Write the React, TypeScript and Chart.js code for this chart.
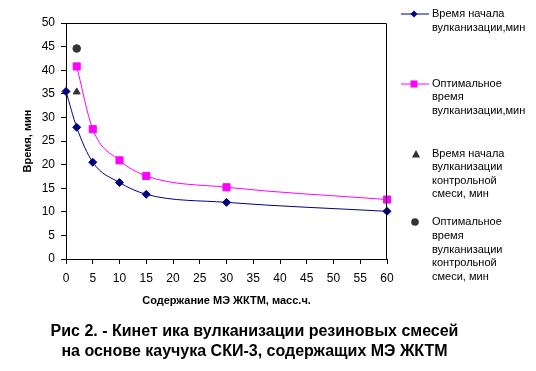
import React, { useEffect, useRef } from "react";
import { Chart, registerables } from "chart.js";

Chart.register(...registerables);

const xValuesMain = [0, 2, 5, 10, 15, 30, 60];
const scorchTime = [35.5, 27.9, 20.5, 16.2, 13.7, 12.0, 10.1];
const xValuesOpt = [2, 5, 10, 15, 30, 60];
const optimalTime = [40.8, 27.5, 20.9, 17.6, 15.2, 12.6];
const controlX = [2];
const controlScorch = [35.4];
const controlOptimal = [44.6];

const legendLabels = [
  ["Время начала", "вулканизации,мин"],
  ["Оптимальное", "время", "вулканизации,мин"],
  ["Время начала", "вулканизации", "контрольной", "смеси, мин"],
  ["Оптимальное", "время", "вулканизации", "контрольной", "смеси, мин"],
];
const yAxisTitle = "Время, мин";
const xAxisTitle = "Содержание МЭ ЖКТМ, масс.ч.";
const captionLines = [
  "Рис 2. - Кинет ика вулканизации резиновых смесей",
  "на основе каучука СКИ-3, содержащих МЭ ЖКТМ",
];

const NAVY = "#000080";
const MAGENTA = "#FF00FF";
const GRAY = "#333333";
const FONT = "'Liberation Sans', Arial, sans-serif";

const frame = {
  id: "frame",
  afterDraw(chart: any) {
    const { ctx, chartArea } = chart;
    ctx.save();
    ctx.strokeStyle = "#000";
    ctx.lineWidth = 1;
    ctx.beginPath();
    ctx.moveTo(Math.round(chartArea.left) + 0.5, Math.round(chartArea.top) + 0.5);
    ctx.lineTo(Math.round(chartArea.right) - 0.5, Math.round(chartArea.top) + 0.5);
    ctx.lineTo(Math.round(chartArea.right) - 0.5, Math.round(chartArea.bottom) + 0.5);
    ctx.stroke();
    ctx.restore();
  },
};

function Marker({ kind }: { kind: number }) {
  if (kind === 0) {
    return (
      <svg width="30" height="10" style={{ display: "block" }}>
        <line x1="1" y1="5" x2="29" y2="5" stroke={NAVY} strokeWidth="1" />
        <polygon points="14,1.5 17.5,5 14,8.5 10.5,5" fill={NAVY} />
      </svg>
    );
  }
  if (kind === 1) {
    return (
      <svg width="30" height="10" style={{ display: "block" }}>
        <line x1="1" y1="5" x2="29" y2="5" stroke={MAGENTA} strokeWidth="1" />
        <rect x="10.5" y="1.5" width="7" height="7" fill={MAGENTA} />
      </svg>
    );
  }
  if (kind === 2) {
    return (
      <svg width="30" height="10" style={{ display: "block" }}>
        <polygon points="15,1 19,8.5 11,8.5" fill={GRAY} />
      </svg>
    );
  }
  return (
    <svg width="30" height="10" style={{ display: "block" }}>
      <circle cx="14" cy="5" r="3.8" fill={GRAY} />
    </svg>
  );
}

const legendTops = [7.3, 76.9, 146.6, 215.4];
const legendMarkerY = [14.3, 83.5, 153.5, 222.3];

export default function App() {
  const canvasRef = useRef<HTMLCanvasElement | null>(null);

  useEffect(() => {
    document.body.style.margin = "0";
    const canvas = canvasRef.current;
    if (!canvas) return;
    const chart = new Chart(canvas, {
      type: "line",
      data: {
        datasets: [
          {
            label: legendLabels[0].join(" "),
            data: xValuesMain.map((x, i) => ({ x, y: scorchTime[i] })),
            borderColor: NAVY,
            backgroundColor: NAVY,
            borderWidth: 1,
            pointStyle: "rectRot",
            pointRadius: 4,
            cubicInterpolationMode: "monotone",
            clip: false,
          },
          {
            label: legendLabels[1].join(" "),
            data: xValuesOpt.map((x, i) => ({ x, y: optimalTime[i] })),
            borderColor: MAGENTA,
            backgroundColor: MAGENTA,
            borderWidth: 1,
            pointStyle: "rect",
            pointRadius: 5,
            cubicInterpolationMode: "monotone",
            clip: false,
          },
          {
            label: legendLabels[2].join(" "),
            data: controlX.map((x, i) => ({ x, y: controlScorch[i] })),
            borderColor: GRAY,
            backgroundColor: GRAY,
            showLine: false,
            pointStyle: "triangle",
            pointRadius: 4,
            clip: false,
          },
          {
            label: legendLabels[3].join(" "),
            data: controlX.map((x, i) => ({ x, y: controlOptimal[i] })),
            borderColor: GRAY,
            backgroundColor: GRAY,
            showLine: false,
            pointStyle: "circle",
            pointRadius: 3.8,
            clip: false,
          },
        ],
      },
      options: {
        animation: false,
        responsive: false,
        maintainAspectRatio: false,
        layout: { padding: { left: 0, top: 23, right: 149, bottom: 0 } },
        plugins: {
          legend: { display: false },
          tooltip: { enabled: false },
          title: { display: false },
        },
        scales: {
          x: {
            type: "linear",
            min: 0,
            max: 60,
            afterFit: (s: any) => {
              s.height = 112;
            },
            ticks: {
              stepSize: 5,
              color: "#000",
              padding: 7,
              maxRotation: 0,
              font: { family: FONT, size: 12 },
            },
            grid: {
              drawOnChartArea: false,
              drawTicks: true,
              tickLength: 5,
              color: "#000",
            },
            border: { display: true, color: "#000" },
            title: {
              display: true,
              text: xAxisTitle,
              color: "#000",
              font: { family: FONT, size: 11, weight: "bold" },
              padding: { top: 0, bottom: 63.4 },
            },
          },
          y: {
            type: "linear",
            min: 0,
            max: 50,
            afterFit: (s: any) => {
              s.width = 66;
            },
            ticks: {
              stepSize: 5,
              color: "#000",
              padding: 6,
              font: { family: FONT, size: 12 },
            },
            grid: {
              drawOnChartArea: false,
              drawTicks: true,
              tickLength: 5,
              color: "#000",
            },
            border: { display: true, color: "#000" },
            title: {
              display: true,
              text: yAxisTitle,
              color: "#000",
              font: { family: FONT, size: 11, weight: "bold" },
              padding: { top: 21, bottom: 0 },
            },
          },
        },
      },
      plugins: [frame],
    } as any);
    return () => chart.destroy();
  }, []);

  return (
    <div
      style={{
        position: "relative",
        width: 536,
        height: 371,
        background: "#fff",
        fontFamily: FONT,
        overflow: "hidden",
      }}
    >
      <canvas
        ref={canvasRef}
        width={536}
        height={371}
        style={{ position: "absolute", left: 0, top: 0, width: 536, height: 371 }}
      />
      {legendLabels.map((lines, i) => (
        <React.Fragment key={i}>
          <div
            style={{
              position: "absolute",
              left: i < 2 ? 400 : 401,
              top: legendMarkerY[i] - 5,
            }}
          >
            <Marker kind={i} />
          </div>
          <div
            style={{
              position: "absolute",
              left: 432,
              top: legendTops[i],
              fontSize: 11,
              lineHeight: "13.6px",
              color: "#000",
              whiteSpace: "nowrap",
            }}
          >
            {lines.map((l, j) => (
              <div key={j}>{l}</div>
            ))}
          </div>
        </React.Fragment>
      ))}
      <div
        style={{
          position: "absolute",
          left: 0,
          width: 509,
          top: 321.2,
          textAlign: "center",
          fontSize: 16,
          fontWeight: "bold",
          lineHeight: "20px",
          color: "#000",
          whiteSpace: "nowrap",
        }}
      >
        {captionLines.map((l, j) => (
          <div key={j}>{l}</div>
        ))}
      </div>
    </div>
  );
}
